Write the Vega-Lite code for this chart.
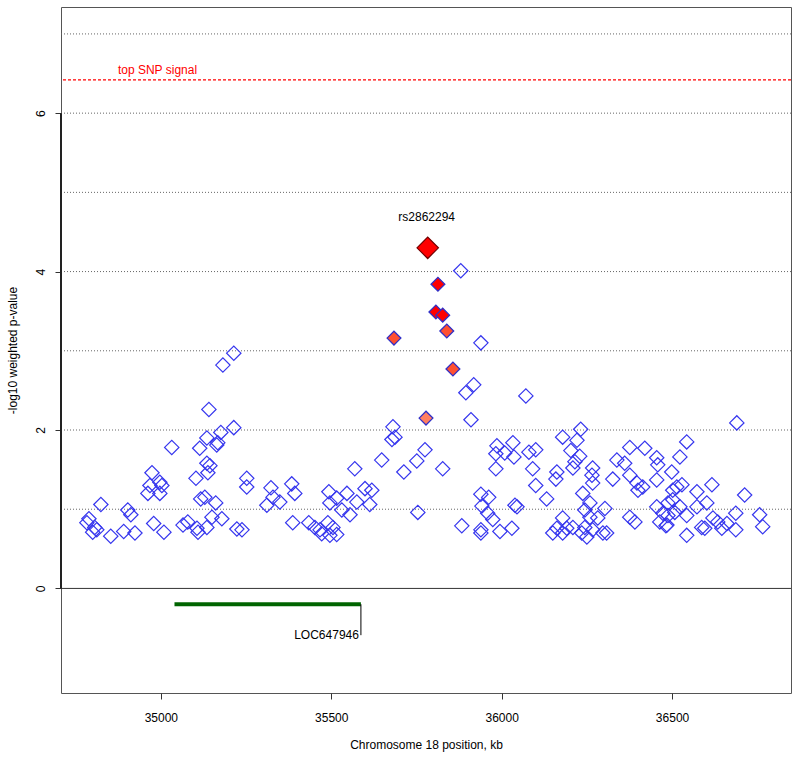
{
  "$schema": "https://vega.github.io/schema/vega-lite/v6.json",
  "width": 730,
  "height": 686,
  "autosize": "none",
  "padding": {"left": 61, "top": 7, "right": 9, "bottom": 67},
  "background": "white",
  "config": {
    "font": "Liberation Sans",
    "view": {"stroke": "#555555", "strokeWidth": 1}
  },
  "datasets": {
    "snps": [
      {"pos": 35214, "logp": 2.97, "ld": "none"},
      {"pos": 35182, "logp": 2.82, "ld": "none"},
      {"pos": 35141, "logp": 2.26, "ld": "none"},
      {"pos": 35214, "logp": 2.03, "ld": "none"},
      {"pos": 35176, "logp": 1.97, "ld": "none"},
      {"pos": 35135, "logp": 1.90, "ld": "none"},
      {"pos": 35167, "logp": 1.84, "ld": "none"},
      {"pos": 35164, "logp": 1.81, "ld": "none"},
      {"pos": 35114, "logp": 1.77, "ld": "none"},
      {"pos": 35032, "logp": 1.78, "ld": "none"},
      {"pos": 35144, "logp": 1.55, "ld": "none"},
      {"pos": 35135, "logp": 1.58, "ld": "none"},
      {"pos": 35138, "logp": 1.46, "ld": "none"},
      {"pos": 35103, "logp": 1.39, "ld": "none"},
      {"pos": 34974, "logp": 1.46, "ld": "none"},
      {"pos": 34997, "logp": 1.34, "ld": "none"},
      {"pos": 34968, "logp": 1.30, "ld": "none"},
      {"pos": 35003, "logp": 1.30, "ld": "none"},
      {"pos": 34962, "logp": 1.20, "ld": "none"},
      {"pos": 34997, "logp": 1.20, "ld": "none"},
      {"pos": 35129, "logp": 1.15, "ld": "none"},
      {"pos": 35117, "logp": 1.13, "ld": "none"},
      {"pos": 35161, "logp": 1.08, "ld": "none"},
      {"pos": 34824, "logp": 1.06, "ld": "none"},
      {"pos": 34903, "logp": 0.99, "ld": "none"},
      {"pos": 34912, "logp": 0.93, "ld": "none"},
      {"pos": 34789, "logp": 0.88, "ld": "none"},
      {"pos": 34783, "logp": 0.83, "ld": "none"},
      {"pos": 34806, "logp": 0.77, "ld": "none"},
      {"pos": 34800, "logp": 0.71, "ld": "none"},
      {"pos": 34812, "logp": 0.74, "ld": "none"},
      {"pos": 34853, "logp": 0.66, "ld": "none"},
      {"pos": 34891, "logp": 0.72, "ld": "none"},
      {"pos": 34924, "logp": 0.70, "ld": "none"},
      {"pos": 34979, "logp": 0.82, "ld": "none"},
      {"pos": 35009, "logp": 0.71, "ld": "none"},
      {"pos": 35065, "logp": 0.80, "ld": "none"},
      {"pos": 35079, "logp": 0.84, "ld": "none"},
      {"pos": 35106, "logp": 0.76, "ld": "none"},
      {"pos": 35109, "logp": 0.71, "ld": "none"},
      {"pos": 35135, "logp": 0.77, "ld": "none"},
      {"pos": 35150, "logp": 0.90, "ld": "none"},
      {"pos": 35179, "logp": 0.88, "ld": "none"},
      {"pos": 35223, "logp": 0.75, "ld": "none"},
      {"pos": 35681, "logp": 2.04, "ld": "none"},
      {"pos": 35678, "logp": 1.88, "ld": "none"},
      {"pos": 35687, "logp": 1.91, "ld": "none"},
      {"pos": 35648, "logp": 1.62, "ld": "none"},
      {"pos": 35569, "logp": 1.51, "ld": "none"},
      {"pos": 35713, "logp": 1.47, "ld": "none"},
      {"pos": 35252, "logp": 1.39, "ld": "none"},
      {"pos": 35252, "logp": 1.28, "ld": "none"},
      {"pos": 35323, "logp": 1.27, "ld": "none"},
      {"pos": 35329, "logp": 1.15, "ld": "none"},
      {"pos": 35349, "logp": 1.09, "ld": "none"},
      {"pos": 35311, "logp": 1.05, "ld": "none"},
      {"pos": 35384, "logp": 1.32, "ld": "none"},
      {"pos": 35393, "logp": 1.20, "ld": "none"},
      {"pos": 35493, "logp": 1.22, "ld": "none"},
      {"pos": 35516, "logp": 1.14, "ld": "none"},
      {"pos": 35546, "logp": 1.20, "ld": "none"},
      {"pos": 35496, "logp": 1.08, "ld": "none"},
      {"pos": 35531, "logp": 0.99, "ld": "none"},
      {"pos": 35555, "logp": 0.93, "ld": "none"},
      {"pos": 35575, "logp": 1.09, "ld": "none"},
      {"pos": 35599, "logp": 1.26, "ld": "none"},
      {"pos": 35619, "logp": 1.24, "ld": "none"},
      {"pos": 35613, "logp": 1.06, "ld": "none"},
      {"pos": 35238, "logp": 0.74, "ld": "none"},
      {"pos": 35387, "logp": 0.83, "ld": "none"},
      {"pos": 35434, "logp": 0.83, "ld": "none"},
      {"pos": 35452, "logp": 0.77, "ld": "none"},
      {"pos": 35467, "logp": 0.74, "ld": "none"},
      {"pos": 35490, "logp": 0.83, "ld": "none"},
      {"pos": 35472, "logp": 0.69, "ld": "none"},
      {"pos": 35496, "logp": 0.67, "ld": "none"},
      {"pos": 35516, "logp": 0.68, "ld": "none"},
      {"pos": 35505, "logp": 0.77, "ld": "none"},
      {"pos": 35880, "logp": 4.01, "ld": "none"},
      {"pos": 35939, "logp": 3.10, "ld": "none"},
      {"pos": 35918, "logp": 2.57, "ld": "none"},
      {"pos": 35895, "logp": 2.47, "ld": "none"},
      {"pos": 36071, "logp": 2.43, "ld": "none"},
      {"pos": 35910, "logp": 2.13, "ld": "none"},
      {"pos": 35775, "logp": 1.75, "ld": "none"},
      {"pos": 35751, "logp": 1.61, "ld": "none"},
      {"pos": 35827, "logp": 1.51, "ld": "none"},
      {"pos": 35986, "logp": 1.80, "ld": "none"},
      {"pos": 36033, "logp": 1.84, "ld": "none"},
      {"pos": 35983, "logp": 1.70, "ld": "none"},
      {"pos": 36009, "logp": 1.71, "ld": "none"},
      {"pos": 36036, "logp": 1.66, "ld": "none"},
      {"pos": 36080, "logp": 1.72, "ld": "none"},
      {"pos": 36100, "logp": 1.75, "ld": "none"},
      {"pos": 35983, "logp": 1.51, "ld": "none"},
      {"pos": 36091, "logp": 1.51, "ld": "none"},
      {"pos": 36100, "logp": 1.30, "ld": "none"},
      {"pos": 36132, "logp": 1.13, "ld": "none"},
      {"pos": 36162, "logp": 1.47, "ld": "none"},
      {"pos": 36159, "logp": 1.38, "ld": "none"},
      {"pos": 35939, "logp": 1.19, "ld": "none"},
      {"pos": 35962, "logp": 1.15, "ld": "none"},
      {"pos": 35942, "logp": 1.04, "ld": "none"},
      {"pos": 35959, "logp": 0.95, "ld": "none"},
      {"pos": 35974, "logp": 0.87, "ld": "none"},
      {"pos": 36039, "logp": 1.05, "ld": "none"},
      {"pos": 36045, "logp": 1.03, "ld": "none"},
      {"pos": 35754, "logp": 0.96, "ld": "none"},
      {"pos": 35883, "logp": 0.79, "ld": "none"},
      {"pos": 35939, "logp": 0.74, "ld": "none"},
      {"pos": 35939, "logp": 0.70, "ld": "none"},
      {"pos": 35995, "logp": 0.72, "ld": "none"},
      {"pos": 36030, "logp": 0.76, "ld": "none"},
      {"pos": 36150, "logp": 0.70, "ld": "none"},
      {"pos": 36232, "logp": 2.01, "ld": "none"},
      {"pos": 36179, "logp": 1.91, "ld": "none"},
      {"pos": 36221, "logp": 1.87, "ld": "none"},
      {"pos": 36203, "logp": 1.74, "ld": "none"},
      {"pos": 36229, "logp": 1.67, "ld": "none"},
      {"pos": 36215, "logp": 1.60, "ld": "none"},
      {"pos": 36209, "logp": 1.52, "ld": "none"},
      {"pos": 36267, "logp": 1.52, "ld": "none"},
      {"pos": 36265, "logp": 1.43, "ld": "none"},
      {"pos": 36267, "logp": 1.33, "ld": "none"},
      {"pos": 36326, "logp": 1.38, "ld": "none"},
      {"pos": 36338, "logp": 1.62, "ld": "none"},
      {"pos": 36361, "logp": 1.58, "ld": "none"},
      {"pos": 36376, "logp": 1.78, "ld": "none"},
      {"pos": 36420, "logp": 1.77, "ld": "none"},
      {"pos": 36376, "logp": 1.43, "ld": "none"},
      {"pos": 36397, "logp": 1.33, "ld": "none"},
      {"pos": 36400, "logp": 1.24, "ld": "none"},
      {"pos": 36414, "logp": 1.28, "ld": "none"},
      {"pos": 36455, "logp": 1.65, "ld": "none"},
      {"pos": 36458, "logp": 1.56, "ld": "none"},
      {"pos": 36499, "logp": 1.47, "ld": "none"},
      {"pos": 36455, "logp": 1.37, "ld": "none"},
      {"pos": 36514, "logp": 1.28, "ld": "none"},
      {"pos": 36238, "logp": 1.20, "ld": "none"},
      {"pos": 36259, "logp": 1.08, "ld": "none"},
      {"pos": 36244, "logp": 0.99, "ld": "none"},
      {"pos": 36259, "logp": 0.90, "ld": "none"},
      {"pos": 36303, "logp": 1.01, "ld": "none"},
      {"pos": 36282, "logp": 0.89, "ld": "none"},
      {"pos": 36179, "logp": 0.89, "ld": "none"},
      {"pos": 36162, "logp": 0.76, "ld": "none"},
      {"pos": 36191, "logp": 0.76, "ld": "none"},
      {"pos": 36209, "logp": 0.77, "ld": "none"},
      {"pos": 36235, "logp": 0.70, "ld": "none"},
      {"pos": 36244, "logp": 0.77, "ld": "none"},
      {"pos": 36267, "logp": 0.74, "ld": "none"},
      {"pos": 36297, "logp": 0.70, "ld": "none"},
      {"pos": 36179, "logp": 0.70, "ld": "none"},
      {"pos": 36250, "logp": 0.65, "ld": "none"},
      {"pos": 36308, "logp": 0.70, "ld": "none"},
      {"pos": 36376, "logp": 0.90, "ld": "none"},
      {"pos": 36391, "logp": 0.84, "ld": "none"},
      {"pos": 36455, "logp": 1.03, "ld": "none"},
      {"pos": 36473, "logp": 0.95, "ld": "none"},
      {"pos": 36488, "logp": 1.08, "ld": "none"},
      {"pos": 36464, "logp": 0.84, "ld": "none"},
      {"pos": 36485, "logp": 0.80, "ld": "none"},
      {"pos": 36502, "logp": 1.12, "ld": "none"},
      {"pos": 36690, "logp": 2.09, "ld": "none"},
      {"pos": 36543, "logp": 1.85, "ld": "none"},
      {"pos": 36523, "logp": 1.66, "ld": "none"},
      {"pos": 36529, "logp": 1.31, "ld": "none"},
      {"pos": 36502, "logp": 1.24, "ld": "none"},
      {"pos": 36573, "logp": 1.22, "ld": "none"},
      {"pos": 36617, "logp": 1.31, "ld": "none"},
      {"pos": 36602, "logp": 1.08, "ld": "none"},
      {"pos": 36573, "logp": 1.03, "ld": "none"},
      {"pos": 36543, "logp": 0.92, "ld": "none"},
      {"pos": 36523, "logp": 1.03, "ld": "none"},
      {"pos": 36508, "logp": 0.96, "ld": "none"},
      {"pos": 36488, "logp": 0.92, "ld": "none"},
      {"pos": 36713, "logp": 1.18, "ld": "none"},
      {"pos": 36687, "logp": 0.95, "ld": "none"},
      {"pos": 36757, "logp": 0.93, "ld": "none"},
      {"pos": 36766, "logp": 0.78, "ld": "none"},
      {"pos": 36620, "logp": 0.89, "ld": "none"},
      {"pos": 36634, "logp": 0.84, "ld": "none"},
      {"pos": 36661, "logp": 0.82, "ld": "none"},
      {"pos": 36587, "logp": 0.77, "ld": "none"},
      {"pos": 36596, "logp": 0.76, "ld": "none"},
      {"pos": 36646, "logp": 0.76, "ld": "none"},
      {"pos": 36687, "logp": 0.74, "ld": "none"},
      {"pos": 36543, "logp": 0.67, "ld": "none"},
      {"pos": 36482, "logp": 0.79, "ld": "none"},
      {"pos": 35684, "logp": 3.16, "ld": "mid"},
      {"pos": 35813, "logp": 3.84, "ld": "high"},
      {"pos": 35807, "logp": 3.49, "ld": "high"},
      {"pos": 35827, "logp": 3.45, "ld": "high"},
      {"pos": 35839, "logp": 3.25, "ld": "mid"},
      {"pos": 35857, "logp": 2.77, "ld": "mid"},
      {"pos": 35778, "logp": 2.15, "ld": "low"},
      {"pos": 35783, "logp": 4.30, "ld": "top"}
    ],
    "grid": [{"y": 1}, {"y": 2}, {"y": 3}, {"y": 4}, {"y": 5}, {"y": 6}, {"y": 7}],
    "gene": [{"start": 35040, "end": 35587, "y": -0.2, "ylab": -0.59, "name": "LOC647946"}],
    "labels": [
      {"x": 34874, "y": 6.55, "text": "top SNP signal", "kind": "signal"},
      {"x": 35780, "y": 4.69, "text": "rs2862294", "kind": "snp"}
    ],
    "yaxisline": [{"x": 34707, "y": 0, "y2": 6}]
  },
  "layer": [
    {
      "data": {"name": "grid"},
      "mark": {"type": "rule", "color": "#666666", "strokeDash": [1, 2], "strokeWidth": 1},
      "encoding": {
        "y": {
          "field": "y", "type": "quantitative",
          "scale": {"domain": [-1.32, 7.34], "nice": false, "zero": false},
          "axis": {
            "values": [0, 2, 4, 6], "format": "d", "grid": false, "domain": false,
            "tickSize": 6, "tickColor": "#333333", "labelAngle": -90, "labelAlign": "center",
            "labelBaseline": "bottom", "labelPadding": 8, "labelFontSize": 12, "labelColor": "#000000",
            "title": "-log10 weighted p-value", "titleFontSize": 12, "titleFontWeight": "normal",
            "titleColor": "#000000", "titlePadding": 15
          }
        }
      }
    },
    {
      "data": {"values": [{"y": 0}]},
      "mark": {"type": "rule", "color": "#333333", "strokeWidth": 1},
      "encoding": {"y": {"field": "y", "type": "quantitative"}}
    },
    {
      "data": {"name": "yaxisline"},
      "mark": {"type": "rule", "color": "#222222", "strokeWidth": 2},
      "encoding": {
        "x": {"field": "x", "type": "quantitative"},
        "y": {"field": "y", "type": "quantitative"},
        "y2": {"field": "y2"}
      }
    },
    {
      "data": {"values": [{"y": 6.42}]},
      "mark": {"type": "rule", "color": "#ff0000", "strokeDash": [3, 2], "strokeWidth": 1.3},
      "encoding": {"y": {"field": "y", "type": "quantitative"}}
    },
    {
      "data": {"name": "snps"},
      "transform": [{"filter": "datum.ld === 'none'"}],
      "mark": {"type": "point", "shape": "diamond", "filled": false, "stroke": "#3636ee", "strokeWidth": 1.2, "size": 205, "opacity": 1},
      "encoding": {
        "x": {
          "field": "pos", "type": "quantitative",
          "scale": {"domain": [34707, 36849], "nice": false, "zero": false},
          "axis": {
            "values": [35000, 35500, 36000, 36500], "format": "d", "grid": false, "domain": false,
            "tickSize": 6, "tickColor": "#333333", "labelPadding": 13, "labelFontSize": 12, "labelColor": "#000000",
            "title": "Chromosome 18 position, kb", "titleFontSize": 12, "titleFontWeight": "normal",
            "titleColor": "#000000", "titlePadding": 16
          }
        },
        "y": {"field": "logp", "type": "quantitative"}
      }
    },
    {
      "data": {"name": "snps"},
      "transform": [{"filter": "datum.ld !== 'none' && datum.ld !== 'top'"}],
      "mark": {"type": "point", "shape": "diamond", "filled": true, "stroke": "#3030c8", "strokeWidth": 1.3, "size": 190, "opacity": 1, "fillOpacity": 1},
      "encoding": {
        "x": {"field": "pos", "type": "quantitative"},
        "y": {"field": "logp", "type": "quantitative"},
        "fill": {
          "field": "ld", "type": "nominal", "legend": null,
          "scale": {"domain": ["low", "mid", "high"], "range": ["#ff7f60", "#ff5030", "#ff0000"]}
        }
      }
    },
    {
      "data": {"name": "snps"},
      "transform": [{"filter": "datum.ld === 'top'"}],
      "mark": {"type": "point", "shape": "diamond", "filled": true, "fill": "#ff0000", "stroke": "#700000", "strokeWidth": 1.2, "size": 460, "opacity": 1},
      "encoding": {
        "x": {"field": "pos", "type": "quantitative"},
        "y": {"field": "logp", "type": "quantitative"}
      }
    },
    {
      "data": {"name": "gene"},
      "mark": {"type": "rule", "color": "#006400", "strokeWidth": 4},
      "encoding": {
        "x": {"field": "start", "type": "quantitative"},
        "x2": {"field": "end"},
        "y": {"field": "y", "type": "quantitative"}
      }
    },
    {
      "data": {"name": "gene"},
      "mark": {"type": "rule", "color": "#000000", "strokeWidth": 1},
      "encoding": {
        "x": {"field": "end", "type": "quantitative"},
        "y": {"field": "y", "type": "quantitative"},
        "y2": {"field": "ylab"}
      }
    },
    {
      "data": {"name": "gene"},
      "mark": {"type": "text", "align": "right", "baseline": "middle", "dx": -2, "fontSize": 12, "color": "#000000"},
      "encoding": {
        "x": {"field": "end", "type": "quantitative"},
        "y": {"field": "ylab", "type": "quantitative"},
        "text": {"field": "name"}
      }
    },
    {
      "data": {"name": "labels"},
      "transform": [{"filter": "datum.kind === 'signal'"}],
      "mark": {"type": "text", "align": "left", "baseline": "middle", "fontSize": 12, "color": "#ff0000"},
      "encoding": {
        "x": {"field": "x", "type": "quantitative"},
        "y": {"field": "y", "type": "quantitative"},
        "text": {"field": "text"}
      }
    },
    {
      "data": {"name": "labels"},
      "transform": [{"filter": "datum.kind === 'snp'"}],
      "mark": {"type": "text", "align": "center", "baseline": "middle", "fontSize": 12, "color": "#000000"},
      "encoding": {
        "x": {"field": "x", "type": "quantitative"},
        "y": {"field": "y", "type": "quantitative"},
        "text": {"field": "text"}
      }
    }
  ]
}
